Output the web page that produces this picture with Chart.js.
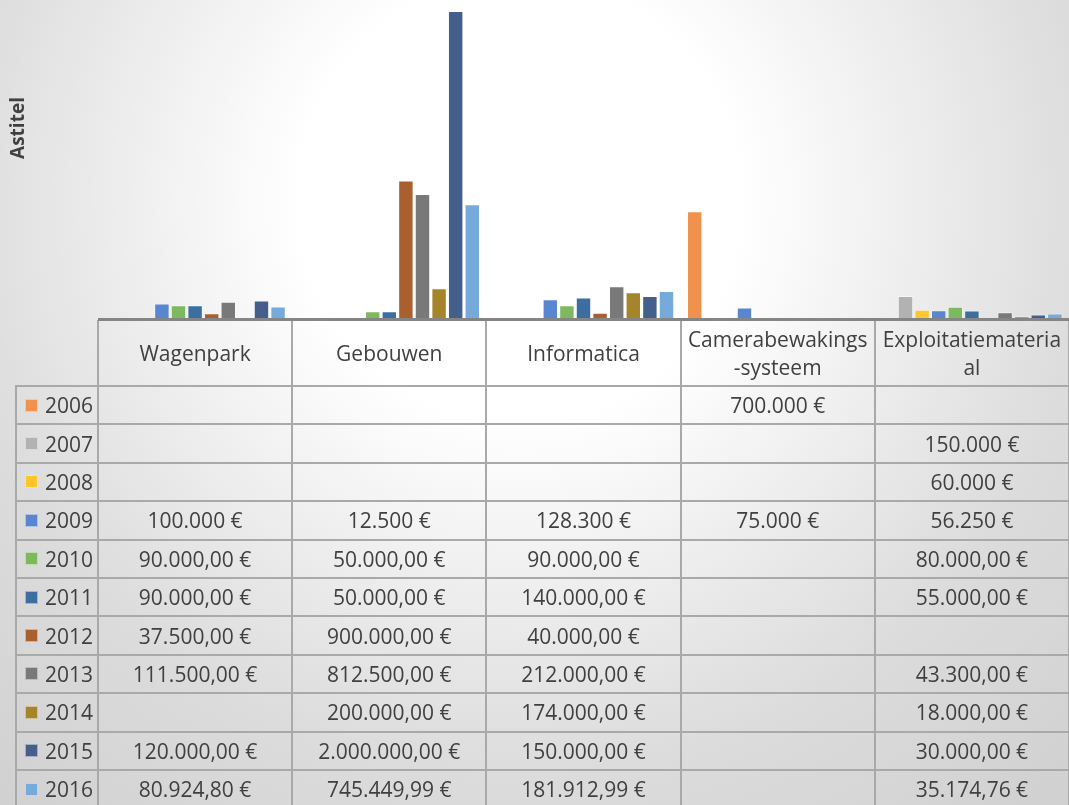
<!DOCTYPE html>
<html>
<head>
<meta charset="utf-8">
<script src="https://cdn.jsdelivr.net/npm/chart.js@4/dist/chart.umd.min.js"></script>
<style>
    html, body { margin: 0; padding: 0; }
    body {
        width: 1069px; height: 805px; overflow: hidden; position: relative;
        font-family: "Open Sans", sans-serif; color: #404040;
        background: radial-gradient(circle farthest-corner at 520px 200px, #ffffff 0%, #ffffff 27%, #dcdcdc 70%, #d0d0d0 100%);
    }
    #chart { position: absolute; left: 0; top: 0; }
    #table { position: absolute; left: 0; top: 0; width: 1069px; height: 805px; }
    .ln { position: absolute; background: #a9a9a9; }
    .cell {
        position: absolute; display: flex; align-items: center; justify-content: center;
        text-align: center; font-size: 21px; line-height: 28px; white-space: nowrap;
    }
    .rowhead { justify-content: flex-start; padding-left: 9px; box-sizing: border-box; }
    .key { display: inline-block; width: 11px; height: 11px; margin-right: 7px; border: 1px solid rgba(255,255,255,0.5); }
</style>
</head>
<body>
<canvas id="chart" width="1069" height="805"></canvas>
<div id="table"></div>
<script>
// Chart data
const yTitle = 'Astitel';
const categories = [['Wagenpark'], ['Gebouwen'], ['Informatica'], ['Camerabewakings', '-systeem'], ['Exploitatiemateria', 'al']];
const years = ['2006', '2007', '2008', '2009', '2010', '2011', '2012', '2013', '2014', '2015', '2016'];

const v2006 = [null, null, null, 700000, null];
const v2007 = [null, null, null, null, 150000];
const v2008 = [null, null, null, null, 60000];
const v2009 = [100000, 12500, 128300, 75000, 56250];
const v2010 = [90000, 50000, 90000, null, 80000];
const v2011 = [90000, 50000, 140000, null, 55000];
const v2012 = [37500, 900000, 40000, null, null];
const v2013 = [111500, 812500, 212000, null, 43300];
const v2014 = [null, 200000, 174000, null, 18000];
const v2015 = [120000, 2000000, 150000, null, 30000];
const v2016 = [80924.80, 745449.99, 181912.99, null, 35174.76];
const series = [v2006, v2007, v2008, v2009, v2010, v2011, v2012, v2013, v2014, v2015, v2016];

// decimals shown in the data table per year
const decimals = [0, 0, 0, 0, 2, 2, 2, 2, 2, 2, 2];

const colors = ['#f0914d', '#b2b2b2', '#ffc629', '#5a85d0', '#7dba5f', '#3c6fa0',
                '#a9602e', '#797979', '#a6852a', '#455f8d', '#76aadb'];

function euro(value, d) {
    return value.toLocaleString('de-DE', { minimumFractionDigits: d, maximumFractionDigits: d }) + ' €';
}

// Rotated axis title, placed like the original
const axisTitle = {
    id: 'axisTitle',
    afterDraw(chart) {
        const ctx = chart.ctx;
        ctx.save();
        ctx.translate(19, 128);
        ctx.rotate(-Math.PI / 2);
        ctx.font = 'bold 19px "Open Sans"';
        ctx.fillStyle = '#404040';
        ctx.textAlign = 'center';
        ctx.textBaseline = 'middle';
        ctx.fillText(yTitle, 0, 0);
        ctx.restore();
    }
};

function buildTable(chart) {
    const table = document.getElementById('table');
    const xs = chart.scales.x;
    const catW = xs.getPixelForValue(1) - xs.getPixelForValue(0);
    const left = xs.left;
    const tableLeft = 16;
    const headTop = 320;
    const headH = 66;
    const rowH = 38.4;
    const bodyTop = headTop + headH;
    const bottom = bodyTop + rowH * years.length;
    const right = 1069;

    const line = (x, y, w, h, color) => {
        const d = document.createElement('div');
        d.className = 'ln';
        d.style.left = x + 'px';
        d.style.top = y + 'px';
        d.style.width = w + 'px';
        d.style.height = h + 'px';
        if (color) d.style.background = color;
        table.appendChild(d);
    };
    const cell = (x, y, w, h, html, extra) => {
        const d = document.createElement('div');
        d.className = 'cell' + (extra ? ' ' + extra : '');
        d.style.left = x + 'px';
        d.style.top = y + 'px';
        d.style.width = w + 'px';
        d.style.height = h + 'px';
        d.innerHTML = html;
        table.appendChild(d);
    };

    // grid
    for (let r = 0; r <= years.length; r++) {
        line(tableLeft, bodyTop + r * rowH - 1, right - tableLeft, 2);
    }
    line(tableLeft - 1, bodyTop - 1, 2, bottom - bodyTop);
    for (let k = 0; k <= categories.length; k++) {
        const cx = xs.getPixelForValue(k) - catW / 2;
        line(cx - 1, headTop, 2, bottom - headTop);
    }
    line(left, headTop - 2, xs.width, 3, '#858585');

    // header
    categories.forEach((lines, k) => {
        const cx = xs.getPixelForValue(k) - catW / 2;
        cell(cx, headTop, catW, headH, lines.join('<br>'));
    });

    // rows
    years.forEach((year, r) => {
        const y = bodyTop + r * rowH;
        cell(tableLeft, y, left - tableLeft, rowH,
            '<span class="key" style="background:' + colors[r] + '"></span>' + year, 'rowhead');
        series[r].forEach((v, k) => {
            if (v === null) return;
            const cx = xs.getPixelForValue(k) - catW / 2;
            cell(cx, y, catW, rowH, euro(v, decimals[r]));
        });
    });
}

const chart = new Chart(document.getElementById('chart'), {
    type: 'bar',
    data: {
        labels: categories,
        datasets: years.map((year, i) => ({
            label: year,
            data: series[i],
            backgroundColor: colors[i],
            borderColor: 'rgba(255, 255, 255, 0.45)',
            borderWidth: 1,
            barPercentage: 0.93,
            categoryPercentage: 0.94
        }))
    },
    options: {
        responsive: false,
        animation: false,
        layout: { padding: { left: 98, right: 0, top: 11, bottom: 486 } },
        plugins: {
            legend: { display: false },
            tooltip: { enabled: false }
        },
        scales: {
            x: { display: false },
            y: { display: false, min: 0, max: 2000000 }
        }
    },
    plugins: [axisTitle]
});

buildTable(chart);
</script>
</body>
</html>
